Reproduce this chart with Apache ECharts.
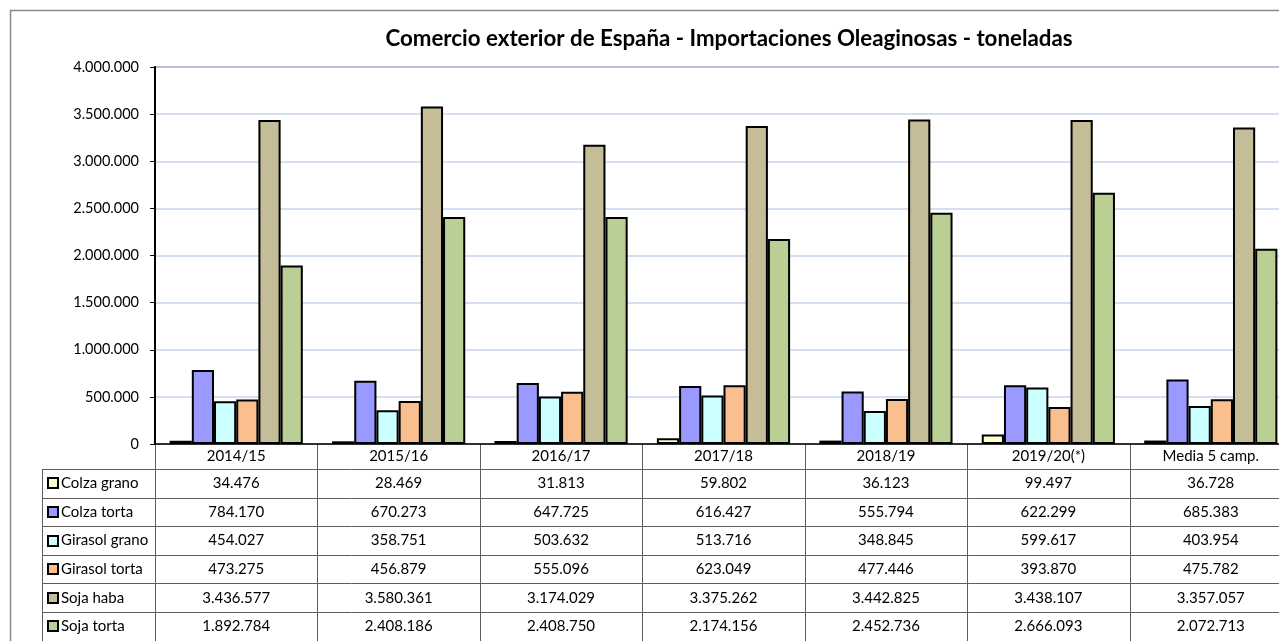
<!DOCTYPE html>
<html>
<head>
<meta charset="utf-8">
<script src="https://cdn.jsdelivr.net/npm/echarts@6/dist/echarts.min.js"></script>
<style>
html,body{margin:0;padding:0;background:#fff;}
#chart{width:1279px;height:641px;}
</style>
</head>
<body>
<div id="chart"></div>
<script>
const titleText = 'Comercio exterior de España - Importaciones Oleaginosas - toneladas';
const categories = ['2014/15', '2015/16', '2016/17', '2017/18', '2018/19', '2019/20(*)', 'Media 5 camp.'];
const seriesNames = ['Colza grano', 'Colza torta', 'Girasol grano', 'Girasol torta', 'Soja haba', 'Soja torta'];
const seriesColors = ['#FFFFCC', '#9999FF', '#CCFFFF', '#F9BF8F', '#C4BD97', '#B9CF93'];
const colzaGrano = [34476, 28469, 31813, 59802, 36123, 99497, 36728];
const colzaTorta = [784170, 670273, 647725, 616427, 555794, 622299, 685383];
const girasolGrano = [454027, 358751, 503632, 513716, 348845, 599617, 403954];
const girasolTorta = [473275, 456879, 555096, 623049, 477446, 393870, 475782];
const sojaHaba = [3436577, 3580361, 3174029, 3375262, 3442825, 3438107, 3357057];
const sojaTorta = [1892784, 2408186, 2408750, 2174156, 2452736, 2666093, 2072713];
const yMin = 0, yMax = 4000000, yStep = 500000;

const seriesData = [colzaGrano, colzaTorta, girasolGrano, girasolTorta, sojaHaba, sojaTorta];

function fmt(n) {
  return String(n).replace(/\B(?=(\d{3})+(?!\d))/g, '.');
}

const FONT = 'Lato, "Open Sans", sans-serif';
const chart = echarts.init(document.getElementById('chart'), null, {renderer: 'canvas'});

// layout constants
const L = 155, T = 67, AXIS_Y = 444, W = 1279, H = 641;
const RIGHT_EDGE = 1292;
const TABLE_LEFT = 42;
const HEADER_BOTTOM = 469;
const ROW_H = 28.6;
const TABLE_FS = 15;

chart.setOption({
  backgroundColor: '#fff',
  animation: false,
  title: {
    text: titleText,
    left: 724, top: 23, textAlign: 'center',
    textStyle: {fontFamily: FONT, fontSize: 22.3, fontWeight: 'bold', color: '#000'}
  },
  grid: {
    left: L, top: T, right: W - RIGHT_EDGE, bottom: H - AXIS_Y,
    outerBoundsMode: 'none', containLabel: false,
    show: true, borderColor: '#868686', borderWidth: 2, backgroundColor: 'transparent'
  },
  xAxis: {
    type: 'category',
    data: categories,
    axisLine: {show: true, lineStyle: {color: '#000', width: 1.5}},
    axisTick: {show: false},
    axisLabel: {show: true, interval: 0, margin: 5, fontFamily: FONT, fontSize: TABLE_FS, color: '#000'},
    splitLine: {show: false}
  },
  yAxis: {
    type: 'value',
    min: yMin, max: yMax, interval: yStep,
    axisLine: {show: true, lineStyle: {color: '#000', width: 2}},
    axisTick: {show: true, length: 5, inside: false, lineStyle: {color: '#000', width: 1}},
    axisLabel: {margin: 16, fontFamily: FONT, fontSize: 14.5, color: '#000', formatter: v => fmt(v)},
    splitLine: {show: true, lineStyle: {color: '#C6D4EC', width: 1.5}}
  },
  series: seriesNames.map((name, i) => ({
    name: name,
    type: 'bar',
    data: seriesData[i],
    barGap: '0%',
    barCategoryGap: '18%',
    itemStyle: {color: seriesColors[i], borderColor: '#000', borderWidth: 2}
  }))
});

// Build data table under the axis
const graphics = [];
// outer chart border
graphics.push({type: 'rect', silent: true, shape: {x: 10.5, y: 10.5, width: 1400, height: 800},
  style: {fill: 'none', stroke: '#8A8A8A', lineWidth: 1.5}});

const lineStyle = {stroke: '#5E5E5E', lineWidth: 1};
const tableBottom = HEADER_BOTTOM + ROW_H * seriesNames.length;
// horizontal lines
for (let r = 0; r <= seriesNames.length; r++) {
  const y = Math.round(HEADER_BOTTOM + ROW_H * r) + 0.5;
  graphics.push({type: 'line', silent: true, shape: {x1: TABLE_LEFT, y1: y, x2: RIGHT_EDGE + 20, y2: y}, style: lineStyle});
}
// vertical lines
graphics.push({type: 'line', silent: true, shape: {x1: TABLE_LEFT + 0.5, y1: HEADER_BOTTOM, x2: TABLE_LEFT + 0.5, y2: tableBottom + 5}, style: lineStyle});
const bandW = (RIGHT_EDGE - L) / categories.length;
for (let c = 0; c <= categories.length; c++) {
  const x = Math.round(L + bandW * c) + 0.5;
  graphics.push({type: 'line', silent: true, shape: {x1: x, y1: AXIS_Y, x2: x, y2: tableBottom + 5}, style: lineStyle});
}
// row labels with legend keys
seriesNames.forEach((name, r) => {
  const cy = HEADER_BOTTOM + ROW_H * r + ROW_H / 2;
  graphics.push({type: 'rect', silent: true, shape: {x: 48, y: Math.round(cy) - 5, width: 10, height: 10},
    style: {fill: seriesColors[r], stroke: '#000', lineWidth: 2}});
  graphics.push({type: 'text', silent: true, x: 61, y: cy,
    style: {text: name, font: TABLE_FS + 'px ' + FONT, fill: '#000', textAlign: 'left', textVerticalAlign: 'middle'}});
  categories.forEach((cat, c) => {
    const px = chart.convertToPixel({xAxisIndex: 0}, cat);
    graphics.push({type: 'text', silent: true, x: px, y: cy,
      style: {text: fmt(seriesData[r][c]), font: TABLE_FS + 'px ' + FONT, fill: '#000', textAlign: 'center', textVerticalAlign: 'middle'}});
  });
});

chart.setOption({graphic: {elements: graphics}});
</script>
</body>
</html>
